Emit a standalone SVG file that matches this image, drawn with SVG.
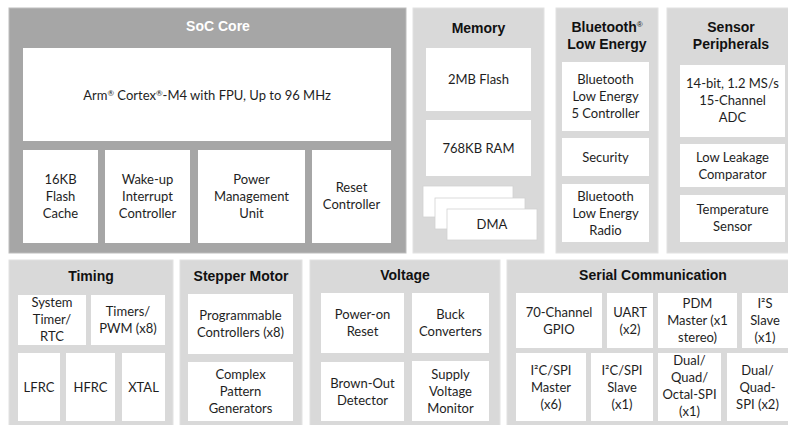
<svg xmlns="http://www.w3.org/2000/svg" width="788" height="425" viewBox="0 0 788 425">
<style>
.dk{fill:#a6a6a6;stroke:#bdbdbd;stroke-width:1}
.lt{fill:#d9d9d9;stroke:#e2e2e2;stroke-width:1}
.bx{fill:#ffffff}
.dma{fill:#ffffff;stroke:#d2d2d2;stroke-width:0.8}
.t{font-family:"Liberation Sans",Arial,sans-serif;font-weight:bold;font-size:14px;fill:#111;text-anchor:middle}
.tw{fill:#ffffff}
.b{font-family:Lato,"Noto Sans",sans-serif;font-size:13px;fill:#1e1e1e;text-anchor:middle}
.sup{font-size:8px}
</style>
<rect width="788" height="425" fill="#ffffff"/>
<g id="connectors"/>

<g id="soc-core">
<rect class="dk" x="9" y="8" width="397" height="245"/>
<text class="t tw" x="218" y="31">SoC Core</text>
</g>
<g id="cortex">
<rect class="bx" x="23" y="48" width="368" height="93"/>
<text class="b" x="207" y="100">Arm<tspan class="sup" dy="-4">®</tspan><tspan dy="4"> Cortex</tspan><tspan class="sup" dy="-4">®</tspan><tspan dy="4">-M4 with FPU, Up to 96 MHz</tspan></text>
</g>
<g id="flash-cache">
<rect class="bx" x="23" y="150" width="75" height="93"/>
<text class="b" x="60.5"><tspan x="60.5" y="184">16KB</tspan><tspan x="60.5" y="201">Flash</tspan><tspan x="60.5" y="218">Cache</tspan></text>
</g>
<g id="wakeup-interrupt">
<rect class="bx" x="105" y="150" width="85" height="93"/>
<text class="b"><tspan x="147.5" y="184">Wake-up</tspan><tspan x="147.5" y="201">Interrupt</tspan><tspan x="147.5" y="218">Controller</tspan></text>
</g>
<g id="pmu">
<rect class="bx" x="198" y="150" width="107" height="93"/>
<text class="b"><tspan x="251.5" y="184">Power</tspan><tspan x="251.5" y="201">Management</tspan><tspan x="251.5" y="218">Unit</tspan></text>
</g>
<g id="reset-controller">
<rect class="bx" x="312" y="150" width="79" height="93"/>
<text class="b"><tspan x="351.5" y="192">Reset</tspan><tspan x="351.5" y="209">Controller</tspan></text>
</g>

<g id="memory">
<rect class="lt" x="413" y="8" width="131" height="245"/>
<text class="t" x="478.5" y="33">Memory</text>
</g>
<g id="flash-2mb">
<rect class="bx" x="426" y="48" width="105" height="63"/>
<text class="b" x="478.5" y="84">2MB Flash</text>
</g>
<g id="ram">
<rect class="bx" x="426" y="120" width="105" height="56"/>
<text class="b" x="478.5" y="152.5">768KB RAM</text>
</g>
<g id="dma">
<rect class="dma" x="423" y="186" width="90" height="31"/>
<rect class="dma" x="435" y="198" width="90" height="31"/>
<rect class="dma" x="447" y="209" width="90" height="31"/>
<text class="b" x="492" y="229">DMA</text>
</g>

<g id="ble">
<rect class="lt" x="556" y="8" width="102" height="245"/>
<text class="t"><tspan x="607" y="32">Bluetooth<tspan class="sup" dy="-5" font-weight="normal">®</tspan></tspan><tspan x="607" y="49">Low Energy</tspan></text>
</g>
<g id="ble-controller">
<rect class="bx" x="562" y="62" width="87" height="69"/>
<text class="b"><tspan x="605.5" y="84">Bluetooth</tspan><tspan x="605.5" y="101">Low Energy</tspan><tspan x="605.5" y="118">5 Controller</tspan></text>
</g>
<g id="security">
<rect class="bx" x="562" y="138" width="87" height="38"/>
<text class="b" x="605.5" y="161.5">Security</text>
</g>
<g id="ble-radio">
<rect class="bx" x="562" y="184" width="87" height="58"/>
<text class="b"><tspan x="605.5" y="200.5">Bluetooth</tspan><tspan x="605.5" y="217.5">Low Energy</tspan><tspan x="605.5" y="234.5">Radio</tspan></text>
</g>

<g id="sensor">
<rect class="lt" x="667" y="8" width="125" height="245"/>
<text class="t"><tspan x="731" y="32">Sensor</tspan><tspan x="731" y="49">Peripherals</tspan></text>
</g>
<g id="adc">
<rect class="bx" x="680" y="65" width="105" height="72"/>
<text class="b"><tspan x="732.5" y="88">14-bit, 1.2 MS/s</tspan><tspan x="732.5" y="105">15-Channel</tspan><tspan x="732.5" y="122">ADC</tspan></text>
</g>
<g id="comparator">
<rect class="bx" x="680" y="144" width="105" height="43"/>
<text class="b"><tspan x="732.5" y="161.5">Low Leakage</tspan><tspan x="732.5" y="178.5">Comparator</tspan></text>
</g>
<g id="temp-sensor">
<rect class="bx" x="680" y="195" width="105" height="47"/>
<text class="b"><tspan x="732.5" y="214">Temperature</tspan><tspan x="732.5" y="231">Sensor</tspan></text>
</g>

<g id="timing">
<rect class="lt" x="9" y="260" width="164" height="170"/>
<text class="t" x="91" y="281">Timing</text>
</g>
<g id="system-timer">
<rect class="bx" x="18" y="295" width="68" height="50"/>
<text class="b"><tspan x="52" y="307">System</tspan><tspan x="52" y="324">Timer/</tspan><tspan x="52" y="341">RTC</tspan></text>
</g>
<g id="timers-pwm">
<rect class="bx" x="91" y="295" width="74" height="50"/>
<text class="b"><tspan x="128" y="316">Timers/</tspan><tspan x="128" y="333">PWM (x8)</tspan></text>
</g>
<g id="lfrc">
<rect class="bx" x="18" y="353" width="42" height="68"/>
<text class="b" x="39" y="391.5">LFRC</text>
</g>
<g id="hfrc">
<rect class="bx" x="66" y="353" width="49" height="68"/>
<text class="b" x="90.5" y="391.5">HFRC</text>
</g>
<g id="xtal">
<rect class="bx" x="122" y="353" width="43" height="68"/>
<text class="b" x="143.5" y="391.5">XTAL</text>
</g>

<g id="stepper-motor">
<rect class="lt" x="180" y="260" width="122" height="170"/>
<text class="t" x="241" y="281">Stepper Motor</text>
</g>
<g id="programmable-controllers">
<rect class="bx" x="188" y="294" width="105" height="60"/>
<text class="b"><tspan x="240.5" y="320">Programmable</tspan><tspan x="240.5" y="337">Controllers (x8)</tspan></text>
</g>
<g id="pattern-generators">
<rect class="bx" x="188" y="362" width="105" height="59"/>
<text class="b"><tspan x="240.5" y="379">Complex</tspan><tspan x="240.5" y="396">Pattern</tspan><tspan x="240.5" y="413">Generators</tspan></text>
</g>

<g id="voltage">
<rect class="lt" x="310" y="260" width="190" height="170"/>
<text class="t" x="405" y="280">Voltage</text>
</g>
<g id="power-on-reset">
<rect class="bx" x="321" y="293" width="83" height="60"/>
<text class="b"><tspan x="362.5" y="319">Power-on</tspan><tspan x="362.5" y="336">Reset</tspan></text>
</g>
<g id="buck-converters">
<rect class="bx" x="412" y="293" width="77" height="60"/>
<text class="b"><tspan x="450.5" y="319">Buck</tspan><tspan x="450.5" y="336">Converters</tspan></text>
</g>
<g id="brown-out">
<rect class="bx" x="321" y="362" width="83" height="59"/>
<text class="b"><tspan x="362.5" y="387.5">Brown-Out</tspan><tspan x="362.5" y="404.5">Detector</tspan></text>
</g>
<g id="supply-monitor">
<rect class="bx" x="412" y="361" width="77" height="60"/>
<text class="b"><tspan x="450.5" y="378.5">Supply</tspan><tspan x="450.5" y="395.5">Voltage</tspan><tspan x="450.5" y="412.5">Monitor</tspan></text>
</g>

<g id="serial">
<rect class="lt" x="507" y="260" width="285" height="170"/>
<text class="t" x="653" y="280">Serial Communication</text>
</g>
<g id="gpio">
<rect class="bx" x="516" y="293" width="86" height="55"/>
<text class="b"><tspan x="559" y="316.5">70-Channel</tspan><tspan x="559" y="333.5">GPIO</tspan></text>
</g>
<g id="uart">
<rect class="bx" x="607" y="293" width="46" height="55"/>
<text class="b"><tspan x="630" y="316.5">UART</tspan><tspan x="630" y="333.5">(x2)</tspan></text>
</g>
<g id="pdm">
<rect class="bx" x="658" y="293" width="79" height="55"/>
<text class="b"><tspan x="697.5" y="308">PDM</tspan><tspan x="697.5" y="325">Master (x1</tspan><tspan x="697.5" y="342">stereo)</tspan></text>
</g>
<g id="i2s">
<rect class="bx" x="742" y="293" width="50" height="55"/>
<text class="b"><tspan x="765" y="308">I²S</tspan><tspan x="765" y="325">Slave</tspan><tspan x="765" y="342">(x1)</tspan></text>
</g>
<g id="i2c-master">
<rect class="bx" x="516" y="353" width="70" height="68"/>
<text class="b"><tspan x="551" y="374.5">I²C/SPI</tspan><tspan x="551" y="391.5">Master</tspan><tspan x="551" y="408.5">(x6)</tspan></text>
</g>
<g id="i2c-slave">
<rect class="bx" x="591" y="353" width="62" height="68"/>
<text class="b"><tspan x="622" y="374.5">I²C/SPI</tspan><tspan x="622" y="391.5">Slave</tspan><tspan x="622" y="408.5">(x1)</tspan></text>
</g>
<g id="octal-spi">
<rect class="bx" x="658" y="353" width="63" height="68"/>
<text class="b"><tspan x="689.5" y="365">Dual/</tspan><tspan x="689.5" y="382">Quad/</tspan><tspan x="689.5" y="399">Octal-SPI</tspan><tspan x="689.5" y="416">(x1)</tspan></text>
</g>
<g id="quad-spi">
<rect class="bx" x="727" y="353" width="65" height="68"/>
<text class="b"><tspan x="757.5" y="374.5">Dual/</tspan><tspan x="757.5" y="391.5">Quad-</tspan><tspan x="757.5" y="408.5">SPI (x2)</tspan></text>
</g>
</svg>
